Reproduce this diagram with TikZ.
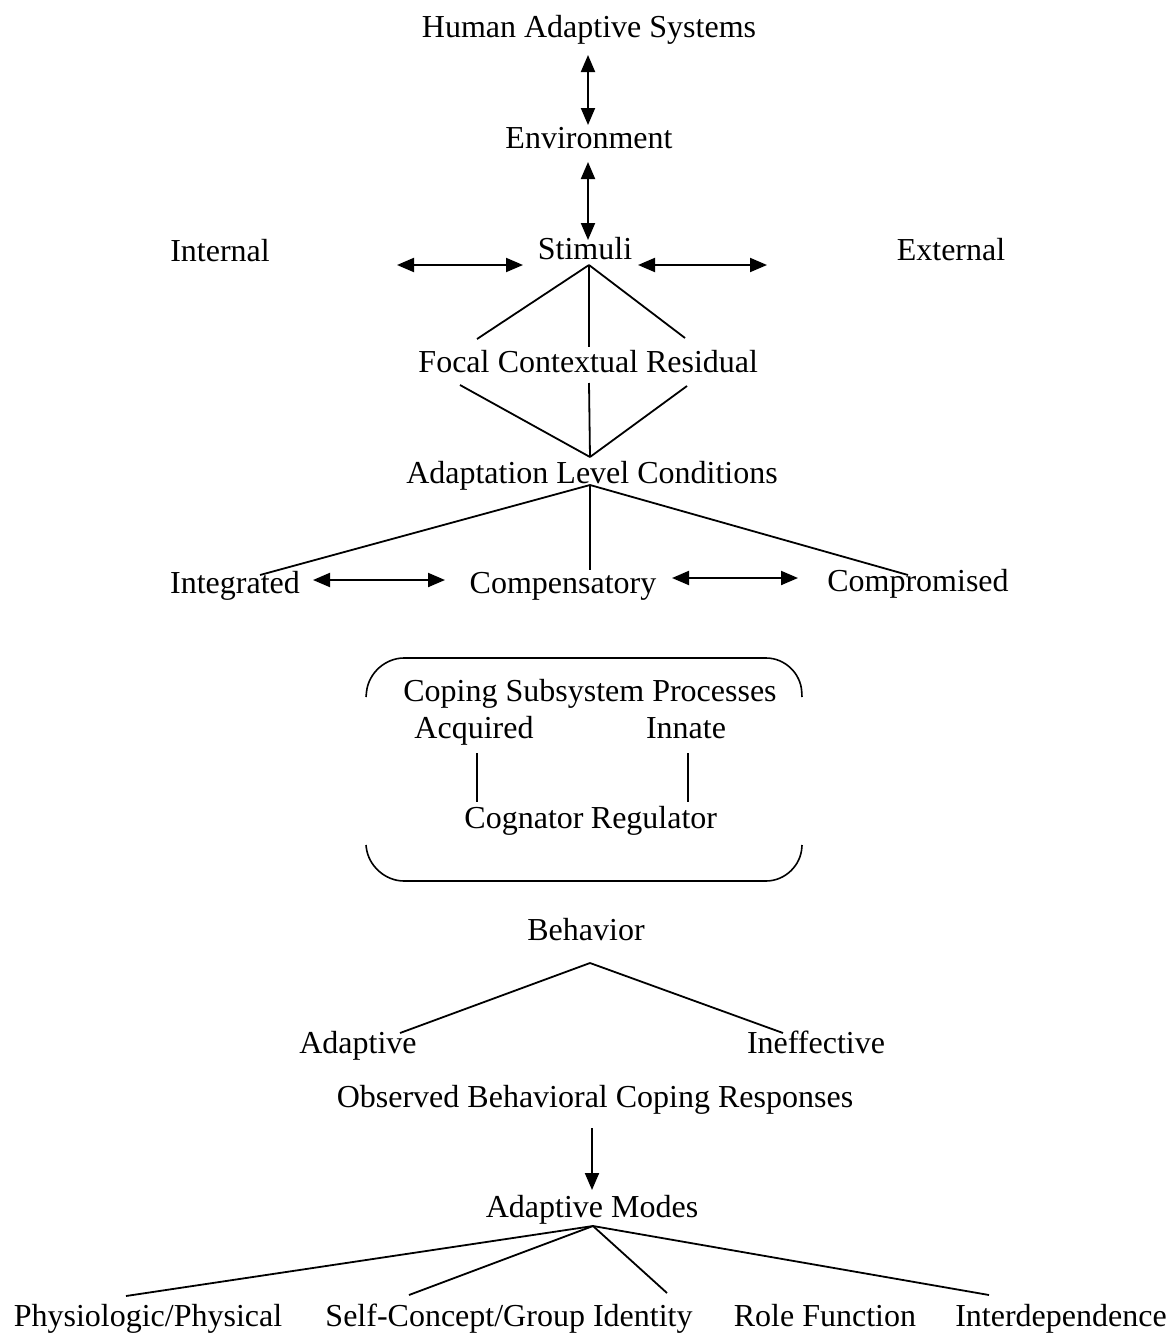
\documentclass[tikz,border=0pt]{standalone}
\usepackage{fontspec}
\setmainfont{Liberation Serif}
\usetikzlibrary{arrows.meta, calc}
\tikzstyle{term} = [inner sep=0pt, anchor=base, font=\fontsize{16}{19}\selectfont]
\tikzstyle{link} = [line width=0.9pt]
\tikzstyle{arrow} = [line width=1pt, <->, >={Triangle[length=8.5pt,width=7pt]}]
\tikzstyle{arrowdown} = [line width=1pt, ->, >={Triangle[length=8.5pt,width=7pt]}]
\tikzstyle{frame} = [line width=0.8pt, rounded corners=17pt]

\begin{document}
\begin{tikzpicture}[x=0.5pt, y=-0.5pt]
        \useasboundingbox (0,0) rectangle (1173,1333);

        % Nodes
        \node (has) [term] at (589,37) {Human Adaptive Systems};
        \node (env) [term] at (589,148) {Environment};
        \node (stim) [term] at (585,259) {Stimuli};
        \node (int) [term] at (220,261) {Internal};
        \node (ext) [term] at (951,260) {External};
        \node (focal) [term] at (454,372) {Focal};
        \node (context) [term] at (568,372) {Contextual};
        \node (resid) [term] at (702,372) {Residual};
        \node (alc) [term] at (592,483) {Adaptation Level Conditions};
        \node (integ) [term] at (235,593) {Integrated};
        \node (comp) [term] at (563,593) {Compensatory};
        \node (compro) [term] at (918,591) {Compromised};
        \node (csp) [term] at (590,701) {Coping Subsystem Processes};
        \node (acq) [term] at (474,738) {Acquired};
        \node (innate) [term] at (686,738) {Innate};
        \node (cog) [term] at (524,828) {Cognator};
        \node (reg) [term] at (654,828) {Regulator};
        \node (beh) [term] at (586,940) {Behavior};
        \node (adapt) [term] at (358,1053) {Adaptive};
        \node (ineff) [term] at (816,1053) {Ineffective};
        \node (obs) [term] at (595,1107) {Observed Behavioral Coping Responses};
        \node (am) [term] at (592,1217) {Adaptive Modes};
        \node (phys) [term] at (148,1326) {Physiologic/Physical};
        \node (self) [term] at (509,1326) {Self-Concept/Group Identity};
        \node (role) [term] at (825,1326) {Role Function};
        \node (interdep) [term] at (1061,1326) {Interdependence};

        % Forks
        \coordinate (stimfork) at ($(stim.base)+(4,6)$);
        \coordinate (alctop) at ($(alc.base)+(-2,-26)$);
        \coordinate (alcfork) at ($(alc.base)+(-2,2)$);
        \coordinate (behfork) at ($(beh.base)+(4,23)$);
        \coordinate (amfork) at ($(am.base)+(1,9)$);

        % Arrows
        \draw [arrow] ($(has.base)+(-1,18)$) -- ($(env.base)+(-1,-23)$);
        \draw [arrow] ($(env.base)+(-1,14)$) -- ($(stim.base)+(3,-19)$);
        \draw [arrow] ($(int.base)+(177,4)$) -- ($(stim.base)+(-62,6)$);
        \draw [arrow] ($(stim.base)+(53,6)$) -- ($(ext.base)+(-184,5)$);
        \draw [arrow] ($(integ.base)+(78,-13)$) -- ($(comp.base)+(-118,-13)$);
        \draw [arrow] ($(comp.base)+(109,-15)$) -- ($(compro.base)+(-120,-13)$);
        \draw [arrowdown] ($(obs.base)+(-3,21)$) -- ($(am.base)+(0,-27)$);

        % Lines
        \draw [link] (stimfork) -- ($(focal.base)+(23,-33)$);
        \draw [link] (stimfork) -- ($(context.base)+(21,-25)$);
        \draw [link] (stimfork) -- ($(resid.base)+(-17,-34)$);
        \draw [link] ($(focal.base)+(6,13)$) -- (alctop);
        \draw [link] ($(context.base)+(21,11)$) -- (alctop);
        \draw [link] ($(resid.base)+(-15,14)$) -- (alctop);
        \draw [link] (alcfork) -- ($(integ.base)+(25,-18)$);
        \draw [link] (alcfork) -- ($(comp.base)+(27,-23)$);
        \draw [link] (alcfork) -- ($(compro.base)+(-10,-16)$);
        \draw [link] ($(acq.base)+(3,15)$) -- ($(cog.base)+(-47,-26)$);
        \draw [link] ($(innate.base)+(2,15)$) -- ($(reg.base)+(34,-26)$);
        \draw [link] (behfork) -- ($(adapt.base)+(42,-20)$);
        \draw [link] (behfork) -- ($(ineff.base)+(-33,-20)$);
        \draw [link] (amfork) -- ($(phys.base)+(-22,-30)$);
        \draw [link] (amfork) -- ($(self.base)+(-100,-31)$);
        \draw [link] (amfork) -- ($(role.base)+(-158,-33)$);
        \draw [link] (amfork) -- ($(interdep.base)+(-72,-31)$);

        % Coping frame
        \draw [frame] (366,697) -- (370,658) -- (800,658) -- (802,697);
        \draw [frame] (366,845) -- (370,881) -- (800,881) -- (802,845);
    \end{tikzpicture}
\end{document}
